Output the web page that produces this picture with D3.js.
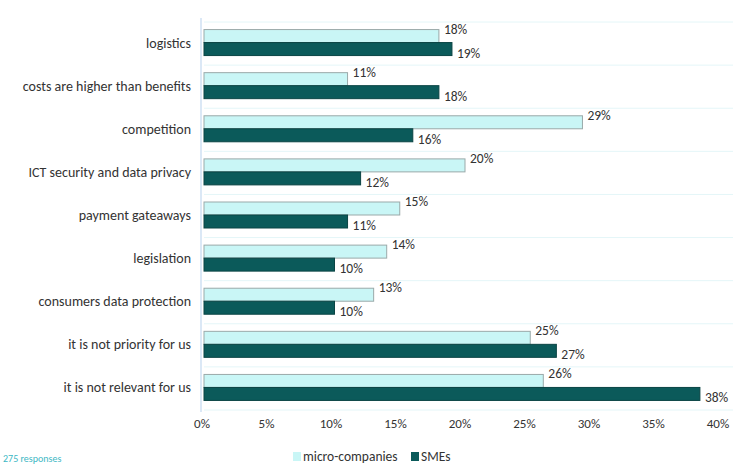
<!DOCTYPE html>
<html lang="en">
<head>
<meta charset="utf-8">
<script src="https://d3js.org/d3.v7.min.js"></script>
<style>
  body { margin: 0; background: #fff; }
  text { font-family: Carlito, Calibri, "Open Sans", "DejaVu Sans", sans-serif; }
</style>
</head>
<body>
<div id="chart"></div>
<script>
var categories = ["logistics", "costs are higher than benefits", "competition",
  "ICT security and data privacy", "payment gateaways", "legislation",
  "consumers data protection", "it is not priority for us", "it is not relevant for us"];
var micro = [18, 11, 29, 20, 15, 14, 13, 25, 26];
var smes = [19, 18, 16, 12, 11, 10, 10, 27, 38];
var seriesNames = ["micro-companies", "SMEs"];
var ticks = [0, 5, 10, 15, 20, 25, 30, 35, 40];

var W = 733, H = 466;
var svg = d3.select("#chart").append("svg").attr("width", W).attr("height", H);

// bars sit on the front plane, tick labels on the back one
var x = d3.scaleLinear().domain([0, 40]).range([204, 726]);
var xTick = d3.scaleLinear().domain([0, 40]).range([202, 718]);
var y = d3.scaleBand().domain(categories).range([22, 410]);
var bw = 13;

// faint separators
svg.selectAll(".sep").data(categories.concat(["end"]))
  .enter().append("line")
  .attr("x1", 204).attr("x2", 735)
  .attr("y1", function(d, i) { return 22 + i * y.bandwidth(); })
  .attr("y2", function(d, i) { return 22 + i * y.bandwidth(); })
  .attr("stroke", "#e4f6f8").attr("stroke-width", 1);

// left wall
svg.append("line").attr("x1", 201).attr("x2", 201).attr("y1", 18).attr("y2", 412)
  .attr("stroke", "#cfe0f3").attr("stroke-width", 1.5);

var g = svg.selectAll(".cat").data(categories).enter().append("g");

g.append("rect")
  .attr("x", x(0))
  .attr("y", function(d) { return y(d) + y.bandwidth() / 2 - bw - 1; })
  .attr("width", function(d, i) { return x(micro[i]) - x(0); })
  .attr("height", bw)
  .attr("fill", "#c9f6f6").attr("stroke", "#9aa9a9").attr("stroke-width", 1);

g.append("rect")
  .attr("x", x(0))
  .attr("y", function(d) { return y(d) + y.bandwidth() / 2 - 1; })
  .attr("width", function(d, i) { return x(smes[i]) - x(0); })
  .attr("height", bw)
  .attr("fill", "#0b5a5a").attr("stroke", "#0a4444").attr("stroke-width", 1);

g.append("text")
  .attr("x", function(d, i) { return x(micro[i]) + 5; })
  .attr("y", function(d) { return y(d) + y.bandwidth() / 2 - 10; })
  .attr("font-size", 13.5).attr("fill", "#333")
  .text(function(d, i) { return micro[i] + "%"; });

g.append("text")
  .attr("x", function(d, i) { return x(smes[i]) + 5; })
  .attr("y", function(d) { return y(d) + y.bandwidth() / 2 + 14; })
  .attr("font-size", 13.5).attr("fill", "#333")
  .text(function(d, i) { return smes[i] + "%"; });

g.append("text")
  .attr("x", 191)
  .attr("y", function(d) { return y(d) + y.bandwidth() / 2 + 4; })
  .attr("text-anchor", "end")
  .attr("font-size", 14).attr("fill", "#333")
  .text(function(d) { return d; });

svg.selectAll(".tick").data(ticks).enter().append("text")
  .attr("x", function(d) { return xTick(d); })
  .attr("y", 428)
  .attr("text-anchor", "middle")
  .attr("font-size", 13).attr("fill", "#333")
  .text(function(d) { return d + "%"; });

svg.append("text").attr("x", 3).attr("y", 462)
  .attr("font-size", 10).attr("fill", "#3cb7c4").text("275 responses");

var legX = [293, 411];
var colors = ["#c9f6f6", "#0b5a5a"];
seriesNames.forEach(function(s, i) {
  svg.append("rect").attr("x", legX[i]).attr("y", 452).attr("width", 8).attr("height", 9)
    .attr("fill", colors[i]);
  svg.append("text").attr("x", legX[i] + 10).attr("y", 461)
    .attr("font-size", 13.5).attr("fill", "#333").text(s);
});
</script>
</body>
</html>
